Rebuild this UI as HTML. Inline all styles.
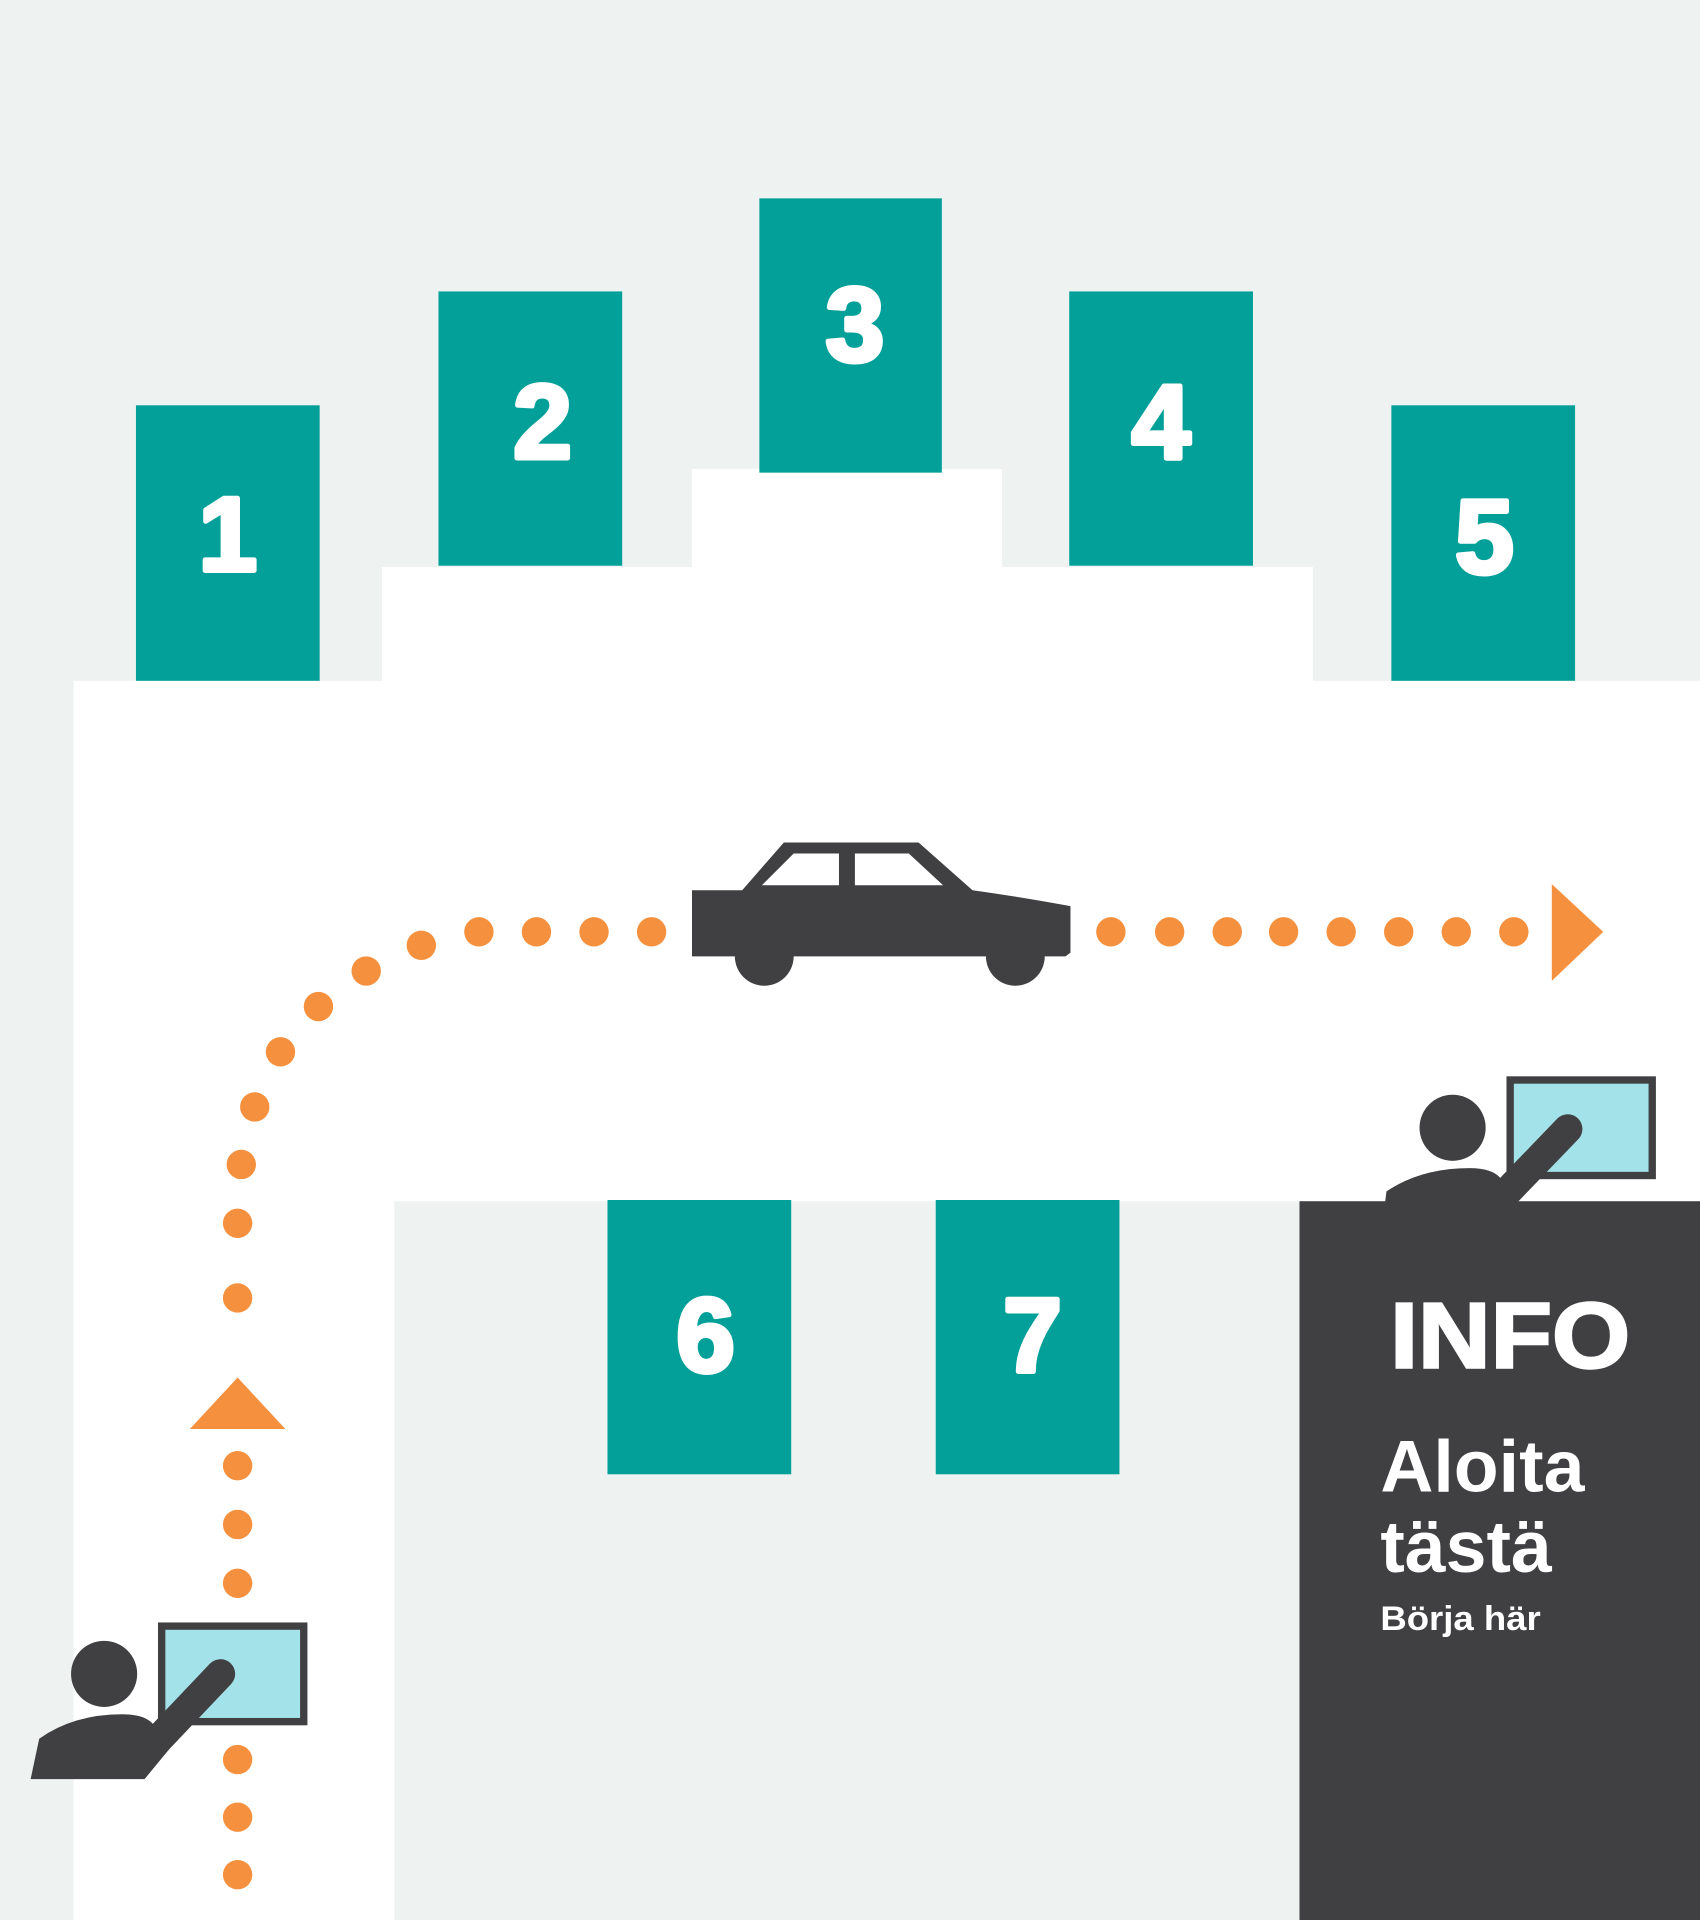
<!DOCTYPE html>
<html><head><meta charset="utf-8"><style>
html,body{margin:0;padding:0;background:#eef2f0}
svg{display:block}
text{font-family:"Liberation Sans",Arial,sans-serif;font-weight:bold}
</style></head><body>
<svg width="1700" height="1920" viewBox="0 0 1388 1568" preserveAspectRatio="none" xmlns="http://www.w3.org/2000/svg">
<rect width="1388" height="1568" fill="#eef2f0"/>
<path d="M60 556 H1388 V981 H322 V1568 H60 Z" fill="#fff"/>
<rect x="312" y="463" width="760" height="94" fill="#fff"/>
<rect x="565" y="383" width="253" height="82" fill="#fff"/>
<g fill="#03a09a">
<rect x="111" y="331" width="150" height="225"/>
<rect x="358" y="238" width="150" height="224"/>
<rect x="620" y="162" width="149" height="224"/>
<rect x="873" y="238" width="150" height="224"/>
<rect x="1136" y="331" width="150" height="225"/>
<rect x="496" y="980" width="150" height="224"/>
<rect x="764" y="980" width="150" height="224"/>
</g>
<g fill="#fff" stroke="#fff" stroke-width="4" stroke-linejoin="round" font-size="86" text-anchor="middle">
<text x="186" y="466">1</text>
<text x="443" y="374">2</text>
<text x="698" y="295">3</text>
<text x="948" y="374">4</text>
<text x="1212" y="468">5</text>
<text x="576" y="1120">6</text>
<text x="843" y="1120">7</text>
</g>
<rect x="1061" y="981" width="327" height="587" fill="#404042"/>
<text x="1135" y="1117" fill="#fff" stroke="#fff" stroke-width="2" font-size="76" textLength="196" lengthAdjust="spacingAndGlyphs">INFO</text>
<text x="1127" y="1218" fill="#fff" font-size="60">Aloita</text>
<text x="1127" y="1284" fill="#fff" font-size="60">tästä</text>
<text x="1127" y="1331" fill="#fff" font-size="28" textLength="131" lengthAdjust="spacingAndGlyphs">Börja här</text>
<g fill="#f5913e">
<circle cx="391" cy="761" r="12"/><circle cx="438" cy="761" r="12"/><circle cx="485" cy="761" r="12"/><circle cx="532" cy="761" r="12"/>
<circle cx="907" cy="761" r="12"/><circle cx="955" cy="761" r="12"/><circle cx="1002" cy="761" r="12"/><circle cx="1048" cy="761" r="12"/><circle cx="1095" cy="761" r="12"/><circle cx="1142" cy="761" r="12"/><circle cx="1189" cy="761" r="12"/><circle cx="1236" cy="761" r="12"/>
<circle cx="344" cy="772" r="12"/><circle cx="299" cy="793" r="12"/><circle cx="260" cy="822" r="12"/><circle cx="229" cy="859" r="12"/><circle cx="208" cy="904" r="12"/><circle cx="197" cy="951" r="12"/><circle cx="194" cy="999" r="12"/><circle cx="194" cy="1060" r="12"/>
<circle cx="194" cy="1197" r="12"/><circle cx="194" cy="1245" r="12"/><circle cx="194" cy="1293" r="12"/>
<circle cx="194" cy="1437" r="12"/><circle cx="194" cy="1484" r="12"/><circle cx="194" cy="1531" r="12"/>
<polygon points="155,1167 233,1167 194,1125"/>
<polygon points="1267,722 1309,761 1267,801"/>
</g>
<g fill="#404042">
<path d="M565 727 H606 L640 688 H750 L794 727 Q830 732 874 740 V778 L870 781 H565 Z"/>
<circle cx="624" cy="781" r="24"/><circle cx="829" cy="781" r="24"/>
</g>
<path d="M622 723 L648 697 H685 V723 Z M698 697 H742 L770 723 H698 Z" fill="#fff"/>
<rect x="132" y="1328" width="116" height="78" fill="#a3e2e8" stroke="#404042" stroke-width="6"/>
<circle cx="85" cy="1367" r="27" fill="#404042"/>
<path d="M25 1453 L32 1420 Q60 1400 100 1400 Q118 1400 125 1408 L155 1408 L118 1453 Z" fill="#404042"/>
<line x1="180" y1="1367" x2="125" y2="1425" stroke="#404042" stroke-width="24" stroke-linecap="round"/>
<rect x="1233" y="882" width="116" height="78" fill="#a3e2e8" stroke="#404042" stroke-width="6"/>
<circle cx="1186" cy="921" r="27" fill="#404042"/>
<path d="M1128 1005 L1132 973 Q1160 954 1200 954 Q1218 954 1225 962 L1250 962 L1222 1005 Z" fill="#404042"/>
<line x1="1280" y1="922" x2="1228" y2="976" stroke="#404042" stroke-width="24" stroke-linecap="round"/>
</svg>
</body></html>
